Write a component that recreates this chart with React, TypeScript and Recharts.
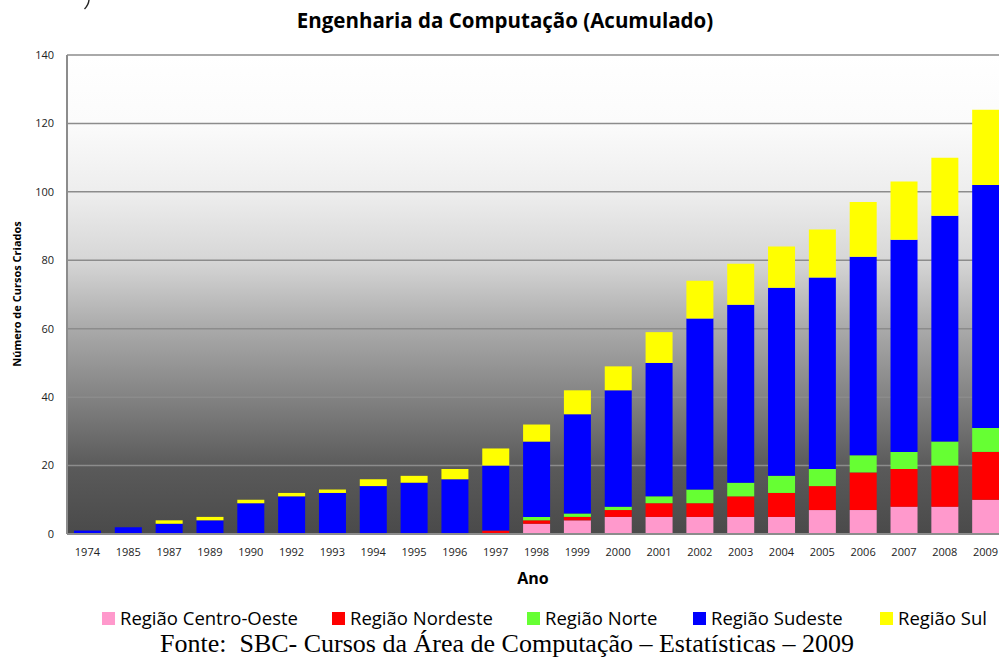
import { BarChart, Bar, XAxis, YAxis, CartesianGrid } from 'recharts';

const years = [
  '1974', '1985', '1987', '1989', '1990', '1992', '1993', '1994', '1995', '1996', '1997',
  '1998', '1999', '2000', '2001', '2002', '2003', '2004', '2005', '2006', '2007', '2008', '2009',
];
const centroOeste = [0, 0, 0, 0, 0, 0, 0, 0, 0, 0, 0, 3, 4, 5, 5, 5, 5, 5, 7, 7, 8, 8, 10];
const nordeste = [0, 0, 0, 0, 0, 0, 0, 0, 0, 0, 1, 1, 1, 2, 4, 4, 6, 7, 7, 11, 11, 12, 14];
const norte = [0, 0, 0, 0, 0, 0, 0, 0, 0, 0, 0, 1, 1, 1, 2, 4, 4, 5, 5, 5, 5, 7, 7];
const sudeste = [1, 2, 3, 4, 9, 11, 12, 14, 15, 16, 19, 22, 29, 34, 39, 50, 52, 55, 56, 58, 62, 66, 71];
const sul = [0, 0, 1, 1, 1, 1, 1, 2, 2, 3, 5, 5, 7, 7, 9, 11, 12, 12, 14, 16, 17, 17, 22];
const yTicks = [0, 20, 40, 60, 80, 100, 120, 140];

const series = [
  { key: 'co', name: 'Região Centro-Oeste', color: '#ff99cc', values: centroOeste },
  { key: 'ne', name: 'Região Nordeste', color: '#ff0000', values: nordeste },
  { key: 'n', name: 'Região Norte', color: '#66ff33', values: norte },
  { key: 'se', name: 'Região Sudeste', color: '#0000ff', values: sudeste },
  { key: 's', name: 'Região Sul', color: '#ffff00', values: sul },
];

// where each legend entry starts
const legendLeft = [102, 332, 527, 693, 880];

const data = years.map((year, i) => {
  const row: Record<string, string | number> = { year };
  series.forEach((s) => {
    row[s.key] = s.values[i];
  });
  return row;
});

const font = '"Open Sans", Lato, sans-serif';

export default function App() {
  return (
    <div
      style={{
        position: 'absolute',
        left: 0,
        top: 0,
        width: 999,
        height: 658,
        overflow: 'hidden',
        background: '#fff',
        fontFamily: font,
      }}
    >
      {/* cut-off bracket left over from the line above the chart */}
      <svg style={{ position: 'absolute', left: 80, top: 0 }} width={14} height={12}>
        <path d="M 9 0 Q 8.5 5 4.5 9" stroke="#222" strokeWidth={1.4} fill="none" />
      </svg>
      <div
        style={{
          position: 'absolute',
          left: 0,
          width: 1010,
          top: 6,
          textAlign: 'center',
          fontSize: 20.5,
          fontWeight: 700,
          lineHeight: '28px',
          color: '#000',
        }}
      >
        Engenharia da Computação (Acumulado)
      </div>

      <BarChart
        width={1010}
        height={658}
        data={data}
        margin={{ top: 55, right: 4, left: 0, bottom: 94 }}
        barSize={27}
      >
        <defs>
          <linearGradient id="plotBg" x1="0" y1="0" x2="0" y2="1">
            <stop offset="0%" stopColor="#ffffff" />
            <stop offset="14%" stopColor="#fbfbfb" />
            <stop offset="29%" stopColor="#ededed" />
            <stop offset="43%" stopColor="#d6d6d6" />
            <stop offset="57%" stopColor="#aaaaaa" />
            <stop offset="72%" stopColor="#818181" />
            <stop offset="86%" stopColor="#5a5a5a" />
            <stop offset="100%" stopColor="#4a4a4a" />
          </linearGradient>
        </defs>
        <CartesianGrid vertical={false} stroke="#8c8c8c" strokeWidth={1.5} fill="url(#plotBg)" />
        <XAxis
          dataKey="year"
          height={30}
          interval={0}
          tickSize={0}
          tickMargin={14}
          axisLine={{ stroke: '#8c8c8c', strokeWidth: 2 }}
          tick={{ fontSize: 11, fill: '#222', fontFamily: font }}
          label={{
            content: () => (
              <text x={533} y={584} textAnchor="middle" fontSize={16} fontWeight={700} fontFamily={font} fill="#000">
                Ano
              </text>
            ),
          }}
        />
        <YAxis
          width={67}
          domain={[0, 140]}
          ticks={yTicks}
          interval={0}
          tickSize={0}
          tickMargin={13}
          axisLine={{ stroke: '#8c8c8c', strokeWidth: 2 }}
          tick={{ fontSize: 11, fill: '#222', fontFamily: font }}
          label={{
            content: () => (
              <text
                x={21}
                y={294}
                transform="rotate(-90 21 294)"
                textAnchor="middle"
                fontSize={11}
                fontWeight={700}
                fontFamily={font}
                fill="#000"
              >
                Número de Cursos Criados
              </text>
            ),
          }}
        />
        {series.map((s) => (
          <Bar key={s.key} dataKey={s.key} name={s.name} stackId="a" fill={s.color} isAnimationActive={false} />
        ))}
      </BarChart>

      {series.map((s, i) => (
        <div
          key={s.key}
          style={{
            position: 'absolute',
            left: legendLeft[i],
            top: 606,
            display: 'flex',
            alignItems: 'center',
            fontSize: 18.5,
            lineHeight: '24px',
            color: '#000',
            whiteSpace: 'nowrap',
          }}
        >
          <span style={{ width: 12.5, height: 13, background: s.color, marginRight: 5.5, display: 'inline-block' }} />
          {s.name}
        </div>
      ))}

      <div
        style={{
          position: 'absolute',
          left: 160,
          top: 629,
          fontFamily: '"Liberation Serif", "Times New Roman", serif',
          fontSize: 26,
          lineHeight: '30px',
          color: '#000',
          whiteSpace: 'pre',
        }}
      >
        Fonte:  SBC- Cursos da Área de Computação – Estatísticas – 2009
      </div>
    </div>
  );
}
